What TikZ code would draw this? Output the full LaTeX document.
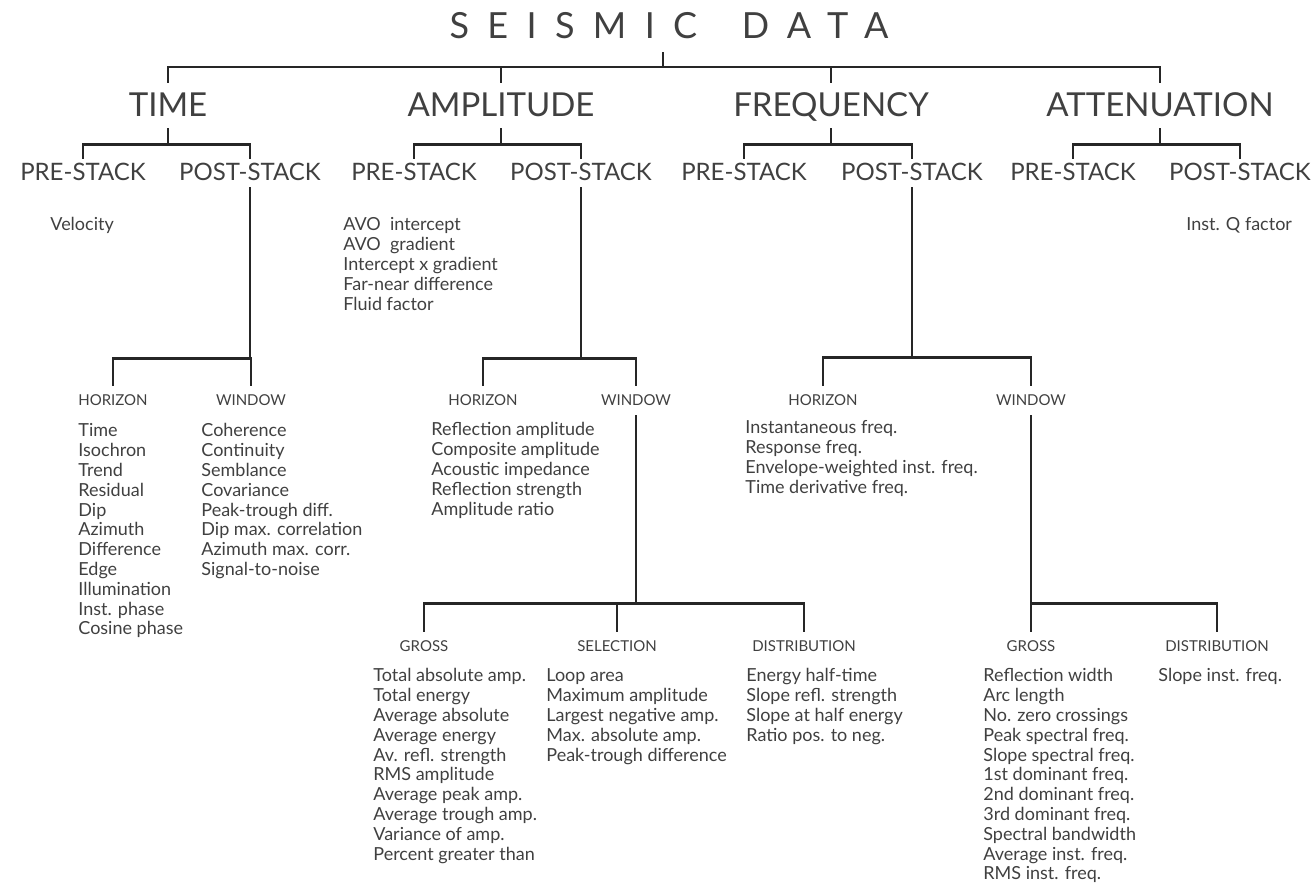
\documentclass[tikz,border=0pt]{standalone}
\usepackage{fontspec}
\setmainfont{Lato}
\usepackage{tikz}

\begin{document}
\begin{tikzpicture}[x=0.5pt,y=-0.5pt,every node/.style={text=black!75,inner xsep=0pt},
	head/.style={font=\fontsize{18}{18}\selectfont\addfontfeature{LetterSpace=51},anchor=base,text depth=0pt,inner ysep=6.5pt},
	cat/.style={font=\fontsize{16.5}{16.5}\selectfont,anchor=base,text height=11.5pt,text depth=0pt,inner ysep=5.5pt},
	stack/.style={font=\fontsize{12}{12}\selectfont,anchor=base,text height=8pt,text depth=0pt,inner ysep=3pt},
	sub/.style={font=\fontsize{7.5}{7.5}\selectfont,anchor=base,text height=5.5pt,text depth=0pt,inner ysep=4.5pt},
	item/.style={font=\fontsize{9}{9}\selectfont,anchor=base west,inner sep=0pt},
	link/.style={draw=black!85,line width=1.4pt}]
	
	\useasboundingbox (0,0) rectangle (1314,892);
	
	% top level
	\node[head] (seis) at (669,39) {SEISMIC\hspace{8.5pt} DATA};
	\coordinate (topbar) at (663,67);
	\node[cat] (time) at (168,117) {TIME};
	\node[cat] (ampl) at (501,117) {AMPLITUDE};
	\node[cat] (freq) at (831,117) {FREQUENCY};
	\node[cat] (atten) at (1160,117) {ATTENUATION};
	
	\draw[link] (seis.south -| topbar) -- (topbar);
	\draw[link] (time.north) |- (topbar) -| (atten.north);
	\draw[link] (ampl.north) -- (ampl.north |- topbar);
	\draw[link] (freq.north) -- (freq.north |- topbar);
	
	% pre / post stack
	\node[stack] (timepre) at (83,181) {PRE-STACK};
	\node[stack] (timepost) at (250,181) {POST-STACK};
	\node[stack] (amplpre) at (414,181) {PRE-STACK};
	\node[stack] (amplpost) at (581,181) {POST-STACK};
	\node[stack] (freqpre) at (744,181) {PRE-STACK};
	\node[stack] (freqpost) at (912,181) {POST-STACK};
	\node[stack] (attenpre) at (1073,181) {PRE-STACK};
	\node[stack] (attenpost) at (1240,181) {POST-STACK};
	
	\draw[link] (time.south) -- ++(0,16) coordinate (tb);
	\draw[link] (timepre.north) |- (tb) -| (timepost.north);
	\draw[link] (ampl.south) -- ++(0,16) coordinate (ab);
	\draw[link] (amplpre.north) |- (ab) -| (amplpost.north);
	\draw[link] (freq.south) -- ++(0,16) coordinate (fb);
	\draw[link] (freqpre.north) |- (fb) -| (freqpost.north);
	\draw[link] (atten.south) -- ++(0,16) coordinate (xb);
	\draw[link] (attenpre.north) |- (xb) -| (attenpost.north);
	
	\node[item] (velo) at (50,231) {Velocity};
	\node[item] (qfac) at (1186,231) {Inst. Q factor};
	\foreach \txt [count=\i] in {AVO\ \ intercept,AVO\ \ gradient,Intercept x gradient,Far-near difference,Fluid factor}
		\node[item] (avo\i) at (343,{231+19.8*(\i-1)}) {\txt};
	
	% horizon / window
	\node[sub] (timehor) at (113,406) {HORIZON};
	\node[sub] (timewin) at (251,406) {WINDOW};
	\node[sub] (amplhor) at (483,406) {HORIZON};
	\node[sub] (amplwin) at (636,406) {WINDOW};
	\node[sub] (freqhor) at (823,406) {HORIZON};
	\node[sub] (freqwin) at (1031,406) {WINDOW};
	
	\draw[link] (timehor.north) -- ++(0,-27) coordinate (thb) -| (timewin.north);
	\draw[link] (timepost) -- (timepost |- thb);
	\draw[link] (amplhor.north) -- ++(0,-27) coordinate (ahb) -| (amplwin.north);
	\draw[link] (amplpost) -- (amplpost |- ahb);
	\draw[link] (freqhor.north) -- ++(0,-28) coordinate (fhb) -| (freqwin.north);
	\draw[link] (freqpost) -- (freqpost |- fhb);
	
	\foreach \txt [count=\i] in {Time,Isochron,Trend,Residual,Dip,Azimuth,Difference,Edge,Illumination,Inst. phase,Cosine phase}
		\node[item] (th\i) at (78,{437+19.8*(\i-1)}) {\txt};
	\foreach \txt [count=\i] in {Coherence,Continuity,Semblance,Covariance,Peak-trough diff.,Dip max. correlation,Azimuth max. corr.,Signal-to-noise}
		\node[item] (tw\i) at (201,{437+19.8*(\i-1)}) {\txt};
	\foreach \txt [count=\i] in {Reflection amplitude,Composite amplitude,Acoustic impedance,Reflection strength,Amplitude ratio}
		\node[item] (ah\i) at (431,{436+19.8*(\i-1)}) {\txt};
	\foreach \txt [count=\i] in {Instantaneous freq.,Response freq.,Envelope-weighted inst. freq.,Time derivative freq.}
		\node[item] (fh\i) at (745,{434+19.8*(\i-1)}) {\txt};
	
	% gross / selection / distribution
	\node[sub] (amplgross) at (424,652) {GROSS};
	\node[sub] (amplsel) at (617,652) {SELECTION};
	\node[sub] (ampldist) at (804,652) {DISTRIBUTION};
	\node[sub] (freqgross) at (1031,652) {GROSS};
	\node[sub] (freqdist) at (1217,652) {DISTRIBUTION};
	
	\draw[link] (amplgross.north) -- ++(0,-28) coordinate (agb) -| (ampldist.north);
	\draw[link] (amplsel.north) -- (amplsel.north |- agb);
	\draw[link] (amplwin) -- (amplwin |- agb);
	\draw[link] (freqwin) -- (freqgross);
	\draw[link] (freqdist.north) -- ++(0,-28) coordinate (fgb) -- (freqgross.north |- fgb);
	
	\foreach \txt [count=\i] in {Total absolute amp.,Total energy,Average absolute,Average energy,Av. refl. strength,RMS amplitude,Average peak amp.,Average trough amp.,Variance of amp.,Percent greater than}
		\node[item] (ag\i) at (373,{682+19.8*(\i-1)}) {\txt};
	\foreach \txt [count=\i] in {Loop area,Maximum amplitude,Largest negative amp.,Max. absolute amp.,Peak-trough difference}
		\node[item] (as\i) at (546,{682+19.8*(\i-1)}) {\txt};
	\foreach \txt [count=\i] in {Energy half-time,Slope refl. strength,Slope at half energy,Ratio pos. to neg.}
		\node[item] (ad\i) at (746,{682+19.8*(\i-1)}) {\txt};
	\foreach \txt [count=\i] in {Reflection width,Arc length,No. zero crossings,Peak spectral freq.,Slope spectral freq.,1st dominant freq.,2nd dominant freq.,3rd dominant freq.,Spectral bandwidth,Average inst. freq.,RMS inst. freq.}
		\node[item] (fg\i) at (983,{682+19.8*(\i-1)}) {\txt};
	\node[item] (fd1) at (1158,682) {Slope inst. freq.};
	
\end{tikzpicture}
\end{document}
